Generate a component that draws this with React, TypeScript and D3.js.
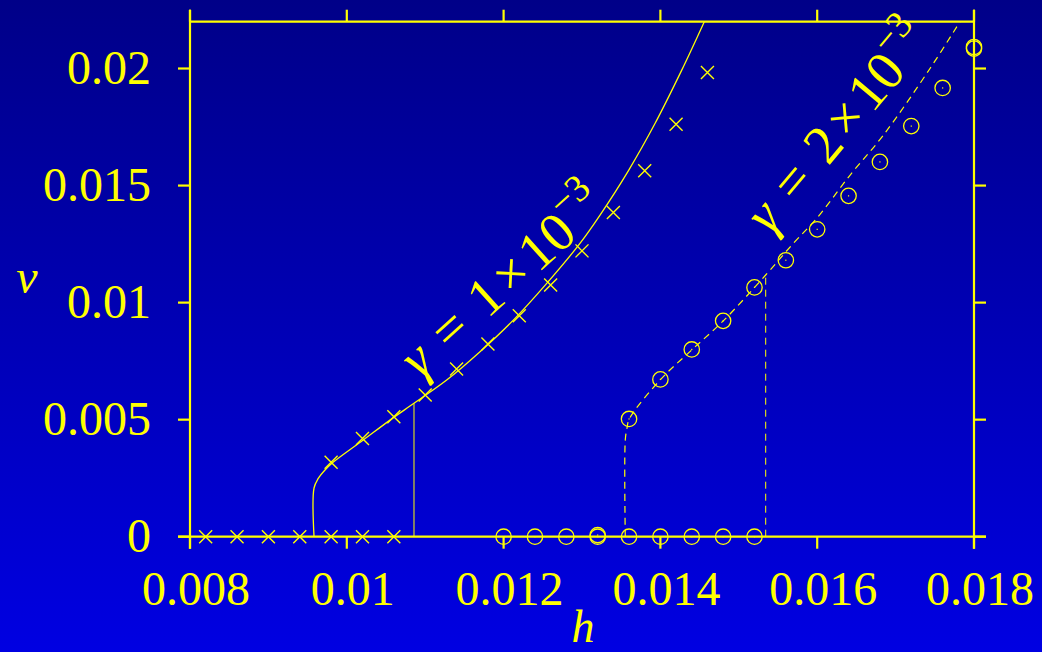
import * as d3 from 'd3';
import React, { useRef, useEffect } from 'react';

// gamma = 1e-3 : crosses
const crossZeroH = [0.0082, 0.0086, 0.009, 0.0094, 0.0098, 0.0102, 0.0106]
const crossH = [0.0098, 0.0102, 0.0106, 0.011, 0.0114, 0.0118, 0.0122, 0.0126, 0.013, 0.0134, 0.0138, 0.0142, 0.0146]
const crossV = [0.00318, 0.0042, 0.00512, 0.00605, 0.00716, 0.00823, 0.00944, 0.01075, 0.01221, 0.01385, 0.01563, 0.01762, 0.01983]

// gamma = 2e-3 : circles
const circZeroH = [0.012, 0.0124, 0.0128, 0.0132, 0.0132, 0.0136, 0.014, 0.0144, 0.0148, 0.0152]
const circZeroV = [0, 0, 0, 0, 0.00007, 0, 0, 0, 0, 0]
const circH = [0.0136, 0.014, 0.0144, 0.0148, 0.0152, 0.0156, 0.016, 0.0164, 0.0168, 0.0172, 0.0176, 0.018, 0.018]
const circV = [0.00503, 0.00672, 0.008, 0.00922, 0.01065, 0.01181, 0.01313, 0.01456, 0.01601, 0.01754, 0.01917, 0.02092, 0.02085]

// theory curves
const solidH = [0.009582, 0.009582, 0.009636, 0.009722, 0.009807, 0.01021, 0.010551, 0.010857, 0.011274, 0.011699, 0.012124, 0.01255, 0.012974, 0.01323, 0.013591, 0.013931, 0.014272, 0.01456]
const solidV = [0, 0.00208, 0.00249, 0.00285, 0.00313, 0.00413, 0.00498, 0.0057, 0.00669, 0.0079, 0.00925, 0.01082, 0.01253, 0.01374, 0.01563, 0.01765, 0.01993, 0.022]
const dashH = [0.013552, 0.013552, 0.013574, 0.013603, 0.014004, 0.014407, 0.014802, 0.015343, 0.015695, 0.015994, 0.016418, 0.016843, 0.017439, 0.017821]
const dashV = [0, 0.00413, 0.00464, 0.00503, 0.00672, 0.008, 0.00922, 0.01118, 0.01253, 0.0136, 0.01544, 0.01715, 0.02, 0.022]

// jump lines (h, top v)
const solidJump = [0.010857, 0.0057]
const dashJump = [0.015343, 0.01118]

const xTicks = [0.008, 0.01, 0.012, 0.014, 0.016, 0.018]
const xTickLabels = ['0.008', '0.01', '0.012', '0.014', '0.016', '0.018']
const yTicks = [0, 0.005, 0.01, 0.015, 0.02]
const yTickLabels = ['0', '0.005', '0.01', '0.015', '0.02']

const W = 1042
const H = 652
const YEL = '#ffff00'
const FONT = '"Liberation Serif", "Times New Roman", serif'

export default function App() {
    const ref = useRef(null)

    useEffect(() => {
        d3.select(ref.current).selectAll('svg').remove()

        const svg = d3.select(ref.current)
            .append('svg')
            .attr('width', W)
            .attr('height', H)
            .style('position', 'absolute')
            .style('left', 0)
            .style('top', 0)

        const grad = svg.append('defs').append('linearGradient')
            .attr('id', 'bg').attr('x1', 0).attr('y1', 0).attr('x2', 0).attr('y2', 1)
        grad.append('stop').attr('offset', '0%').attr('stop-color', '#000088')
        grad.append('stop').attr('offset', '100%').attr('stop-color', '#0000e2')

        svg.append('rect').attr('width', W).attr('height', H).attr('fill', 'url(#bg)')

        const x = d3.scaleLinear().domain([0.008, 0.018]).range([190, 974])
        const y = d3.scaleLinear().domain([0, 0.022]).range([536.7, 21.7])

        const line = d3.line()
            .x(d => x(d[0]))
            .y(d => y(d[1]))
            .curve(d3.curveCatmullRom.alpha(0.5))

        // theory curves
        svg.append('path')
            .attr('d', line(solidH.map((h, i) => [h, solidV[i]])))
            .attr('fill', 'none').attr('stroke', YEL).attr('stroke-width', 1.3)
        svg.append('path')
            .attr('d', line(dashH.map((h, i) => [h, dashV[i]])))
            .attr('fill', 'none').attr('stroke', YEL).attr('stroke-width', 1.2)
            .attr('stroke-dasharray', '7,5')

        svg.append('line')
            .attr('x1', x(solidJump[0])).attr('x2', x(solidJump[0]))
            .attr('y1', y(0)).attr('y2', y(solidJump[1]))
            .attr('stroke', YEL).attr('stroke-width', 1)
        svg.append('line')
            .attr('x1', x(dashJump[0])).attr('x2', x(dashJump[0]))
            .attr('y1', y(0)).attr('y2', y(dashJump[1]))
            .attr('stroke', YEL).attr('stroke-width', 1)
            .attr('stroke-dasharray', '7,5')

        // crosses
        const crossPts = crossZeroH.map(h => [h, 0]).concat(crossH.map((h, i) => [h, crossV[i]]))
        const s = 6.5
        svg.append('g').selectAll('path')
            .data(crossPts)
            .join('path')
            .attr('d', d => {
                const cx = x(d[0]), cy = y(d[1])
                return `M${cx - s},${cy - s}L${cx + s},${cy + s}M${cx - s},${cy + s}L${cx + s},${cy - s}`
            })
            .attr('stroke', YEL).attr('stroke-width', 1.4).attr('fill', 'none')

        // circles
        const circPts = circZeroH.map((h, i) => [h, circZeroV[i]]).concat(circH.map((h, i) => [h, circV[i]]))
        const cg = svg.append('g')
        cg.selectAll('circle.o')
            .data(circPts)
            .join('circle')
            .attr('cx', d => x(d[0])).attr('cy', d => y(d[1])).attr('r', 7.7)
            .attr('fill', 'none').attr('stroke', YEL).attr('stroke-width', 1.3)
        cg.selectAll('rect.dot')
            .data(circPts)
            .join('rect')
            .attr('x', d => x(d[0]) - 0.6).attr('y', d => y(d[1]) - 0.6)
            .attr('width', 1.2).attr('height', 1.2).attr('fill', YEL)

        // frame
        const frame = svg.append('g').attr('stroke', YEL).attr('stroke-width', 2.2)
        const tl = 12
        frame.append('line').attr('x1', 190).attr('x2', 190).attr('y1', y.range()[1] - tl).attr('y2', y.range()[0] + tl)
        frame.append('line').attr('x1', 974).attr('x2', 974).attr('y1', y.range()[1] - tl).attr('y2', y.range()[0] + tl)
        frame.append('line').attr('x1', 190).attr('x2', 974).attr('y1', y.range()[1]).attr('y2', y.range()[1])
        frame.append('line').attr('x1', 190 - tl).attr('x2', 974 + tl).attr('y1', y.range()[0]).attr('y2', y.range()[0])

        xTicks.forEach(t => {
            frame.append('line').attr('x1', x(t)).attr('x2', x(t)).attr('y1', y.range()[0]).attr('y2', y.range()[0] + tl)
            frame.append('line').attr('x1', x(t)).attr('x2', x(t)).attr('y1', y.range()[1]).attr('y2', y.range()[1] - tl)
        })
        yTicks.forEach(t => {
            frame.append('line').attr('x1', 190).attr('x2', 190 - tl).attr('y1', y(t)).attr('y2', y(t))
            frame.append('line').attr('x1', 974).attr('x2', 974 + tl).attr('y1', y(t)).attr('y2', y(t))
        })

        // tick labels
        svg.append('g').selectAll('text')
            .data(xTicks)
            .join('text')
            .attr('x', d => x(d) + 6).attr('y', 605)
            .attr('text-anchor', 'middle')
            .attr('font-family', FONT).attr('font-size', 48).attr('fill', YEL)
            .text((d, i) => xTickLabels[i])
        svg.append('g').selectAll('text')
            .data(yTicks)
            .join('text')
            .attr('x', 151).attr('y', d => y(d) + 15)
            .attr('text-anchor', 'end')
            .attr('font-family', FONT).attr('font-size', 48).attr('fill', YEL)
            .text((d, i) => yTickLabels[i])

        // axis titles
        svg.append('text').attr('x', 583).attr('y', 642).attr('text-anchor', 'middle')
            .attr('font-family', FONT).attr('font-style', 'italic').attr('font-size', 46).attr('fill', YEL)
            .text('h')
        svg.append('text').attr('x', 27).attr('y', 293).attr('text-anchor', 'middle')
            .attr('font-family', FONT).attr('font-style', 'italic').attr('font-size', 48).attr('fill', YEL)
            .text('v')

        // curve labels
        const label = (px, py, ang, digit) => {
            const t = svg.append('text')
                .attr('transform', `translate(${px},${py}) rotate(${ang})`)
                .attr('font-family', FONT).attr('font-size', 55).attr('fill', YEL)
            t.append('tspan').attr('font-style', 'italic').text('γ')
            t.append('tspan').attr('dx', 19).text('=')
            t.append('tspan').attr('dx', 19).text(digit)
            t.append('tspan').attr('dx', 5).text('×')
            t.append('tspan').attr('dx', 5).text('10')
            t.append('tspan').attr('dy', -25).attr('font-size', 38).text('−3')
        }
        label(420, 380, -42, '1')
        label(770, 236, -50, '2')
    }, [])

    return <div ref={ref} />
}
